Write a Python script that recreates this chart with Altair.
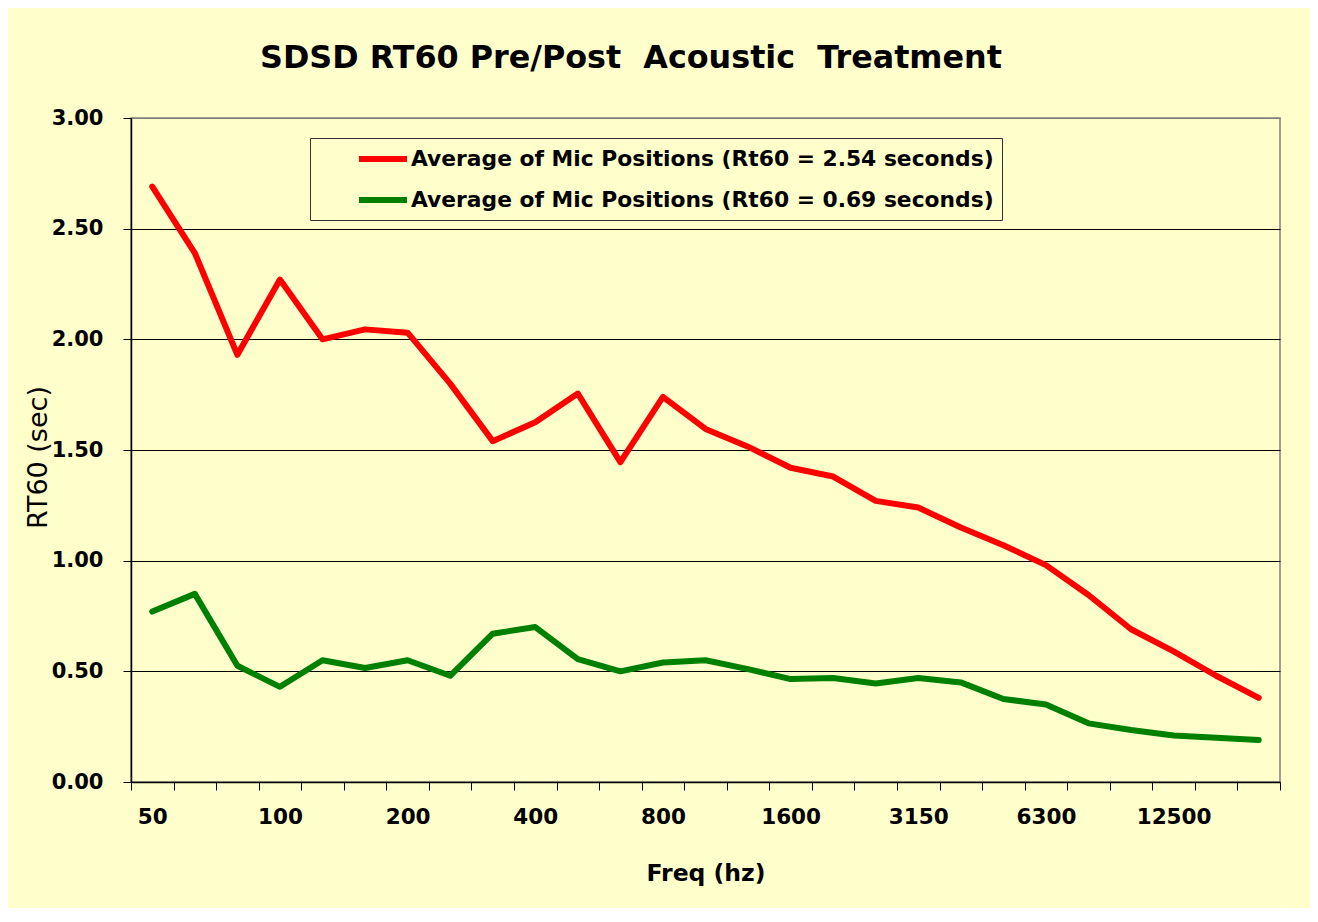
import json
import altair as alt
import pandas as pd

# ---- data ----
freqs = ["50", "63", "80", "100", "125", "160", "200", "250", "315", "400",
         "500", "630", "800", "1000", "1250", "1600", "2000", "2500", "3150",
         "4000", "5000", "6300", "8000", "10000", "12500", "16000", "20000"]
pre_rt60 = [2.69, 2.39, 1.93, 2.27, 2.00, 2.045, 2.03, 1.80, 1.54, 1.625,
            1.755, 1.445, 1.74, 1.595, 1.515, 1.42, 1.38, 1.27, 1.24,
            1.15, 1.07, 0.98, 0.845, 0.69, 0.59, 0.48, 0.38]
post_rt60 = [0.77, 0.85, 0.525, 0.43, 0.55, 0.515, 0.55, 0.48, 0.67, 0.70,
             0.555, 0.50, 0.54, 0.55, 0.51, 0.465, 0.47, 0.445, 0.47,
             0.45, 0.375, 0.35, 0.265, 0.235, 0.21, 0.20, 0.19]
labeled_freqs = ["50", "100", "200", "400", "800", "1600", "3150", "6300", "12500"]
series_names = ["Average of Mic Positions (Rt60 = 2.54 seconds)",
                "Average of Mic Positions (Rt60 = 0.69 seconds)"]
series_colors = ["#FF0000", "#008000"]
y_ticks = [0.0, 0.5, 1.0, 1.5, 2.0, 2.5, 3.0]

n = len(freqs)
df = pd.DataFrame({
    "freq": freqs + freqs,
    "rt60": pre_rt60 + post_rt60,
    "series": [series_names[0]] * n + [series_names[1]] * n,
    "idx": list(range(n)) * 2,
})

FONT = "DejaVu Sans"
BG = "#FFFFCC"
label_expr = "indexof(" + json.dumps(labeled_freqs) + ", datum.label) >= 0 ? datum.label : ''"

chart = alt.Chart(
    df,
    title=alt.Title(
        "SDSD RT60 Pre/Post\u00a0 Acoustic\u00a0 Treatment",
        anchor="start", frame="group", dx=129, offset=7,
        baseline="alphabetic",
        font=FONT, fontSize=31.8, fontWeight="bold", color="black",
    ),
).mark_line(strokeWidth=6, strokeCap="round", strokeJoin="round").encode(
    x=alt.X(
        "freq:N", sort=freqs,
        scale=alt.Scale(type="band", paddingInner=0, paddingOuter=0),
        axis=alt.Axis(
            title="Freq (hz)", labelExpr=label_expr, tickBand="extent",
            labelAngle=0, labelOverlap=False, grid=False,
            domainColor="black", domainWidth=1.5,
            tickColor="black", tickSize=8, tickWidth=1,
            labelFont=FONT, labelFontSize=21.5, labelFontWeight="bold",
            labelColor="black", labelPadding=16,
            titleFont=FONT, titleFontSize=23.5, titleFontWeight="bold",
            titleColor="black", titleY=98, titleBaseline="alphabetic",
        ),
    ),
    y=alt.Y(
        "rt60:Q",
        scale=alt.Scale(domain=[0, 3], nice=False, zero=True),
        axis=alt.Axis(
            title="RT60 (sec)", values=y_ticks, format=".2f",
            grid=True,
            gridColor={"condition": {"test": "datum.value >= 3", "value": "#808080"},
                       "value": "black"},
            gridWidth=1,
            domainColor="black", domainWidth=1.5,
            tickColor="black", tickSize=8, tickWidth=1,
            labelFont=FONT, labelFontSize=21, labelFontWeight="bold",
            labelColor="black", labelPadding=20,
            titleFont=FONT, titleFontSize=27, titleFontWeight="normal",
            titleColor="black", titleAngle=270, titleX=-92.5, titleY=339,
            titleAlign="center", titleBaseline="middle",
        ),
    ),
    color=alt.Color(
        "series:N",
        scale=alt.Scale(domain=series_names, range=series_colors),
        legend=alt.Legend(
            title=None, orient="none", legendX=179, legendY=20,
            direction="vertical",
            labelFont=FONT, labelFontSize=21.8, labelFontWeight="bold",
            labelColor="black", labelLimit=1000,
            symbolType="M-2.4,0H2.4", symbolSize=400, symbolStrokeWidth=6,
            symbolOffset=52, labelOffset=15,
            padding=8, rowPadding=16,
            strokeColor="#333333", fillColor=BG,
        ),
    ),
    order=alt.Order("idx:Q"),
).properties(
    width=1149, height=664,
    autosize=alt.AutoSizeParams(type="none"),
    padding={"left": 123, "top": 110, "right": 30, "bottom": 126},
).configure(
    background=BG,
).configure_view(
    stroke="#808080", strokeWidth=1.5,
)

chart.save("out.html", embed_options={"renderer": "svg", "actions": False})
